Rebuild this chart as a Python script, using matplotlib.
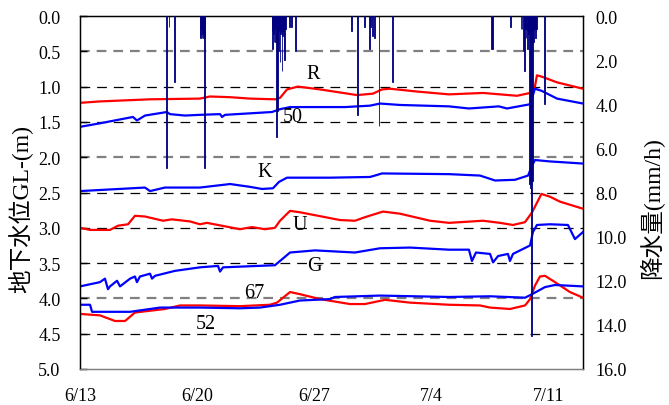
import matplotlib
matplotlib.use("Agg")
import matplotlib.pyplot as plt
import numpy as np

plt.rcParams['font.family'] = ['Liberation Serif', 'Noto Sans CJK JP']
plt.rcParams['lines.scale_dashes'] = False

# ---------------- data (x = days since 6/13, y = depth GL-(m)) ----------------
R_x = [0, 1.19, 4.18, 7.16, 7.76, 8.96, 10.15, 11.64, 11.94, 12.36, 13.01, 14.33, 16.54, 17.49,
       18.03, 18.51, 20.12, 22.03, 24.06, 26.09, 26.87, 27.16, 27.28, 27.58, 28.48, 30.03]
R_y = [1.23, 1.21, 1.18, 1.17, 1.14, 1.15, 1.17, 1.18, 1.16, 1.04, 1.00, 1.04, 1.12, 1.10,
       1.04, 1.03, 1.07, 1.11, 1.09, 1.13, 1.09, 1.00, 0.84, 0.86, 0.94, 1.03]

W50_x = [0, 1.19, 3.16, 3.40, 3.88, 5.19, 5.37, 6.27, 7.16, 8.36, 8.48, 8.66, 11.46, 11.94, 12.54,
         14.33, 15.82, 17.31, 17.91, 19.10, 22.03, 23.22, 25.01, 25.49, 26.87, 27.16, 27.56, 28.48, 30.03]
W50_y = [1.57, 1.52, 1.43, 1.48, 1.41, 1.36, 1.39, 1.41, 1.40, 1.39, 1.43, 1.40, 1.36, 1.32, 1.29,
         1.29, 1.29, 1.27, 1.24, 1.26, 1.28, 1.31, 1.28, 1.31, 1.25, 1.03, 1.06, 1.17, 1.24]

K_x = [0, 3.88, 4.18, 5.07, 7.16, 8.96, 10.15, 10.87, 11.52, 11.88, 12.36, 14.93, 17.31, 17.61,
       18.03, 22.03, 23.88, 24.78, 25.97, 26.75, 26.99, 27.16, 28.06, 30.03]
K_y = [2.48, 2.43, 2.48, 2.43, 2.43, 2.38, 2.42, 2.45, 2.44, 2.35, 2.29, 2.29, 2.28, 2.26,
       2.23, 2.24, 2.26, 2.33, 2.32, 2.26, 2.12, 2.04, 2.06, 2.09]

U_x = [0, 0.60, 1.79, 2.27, 2.87, 3.28, 3.88, 4.96, 5.49, 6.57, 7.16, 7.58, 9.55, 10.27, 11.04,
       11.64, 11.94, 12.54, 13.13, 15.52, 16.42, 17.01, 18.09, 19.10, 20.90, 22.03, 24.06, 25.07,
       25.85, 26.57, 26.99, 27.55, 28.06, 28.66, 30.03]
U_y = [3.00, 3.03, 3.03, 2.97, 2.95, 2.83, 2.84, 2.90, 2.88, 2.91, 2.95, 2.93, 3.02, 2.99, 3.02,
       3.00, 2.90, 2.76, 2.78, 2.89, 2.90, 2.85, 2.77, 2.80, 2.90, 2.93, 2.90, 2.93,
       2.96, 2.92, 2.78, 2.52, 2.56, 2.63, 2.73]

G_x = [0, 1.19, 1.49, 1.67, 1.79, 2.21, 2.39, 2.99, 3.28, 3.40, 3.58, 4.18, 4.30, 4.48, 5.67,
       7.16, 8.24, 8.36, 8.54, 11.64, 12.54, 14.03, 16.42, 17.91, 19.70, 22.03, 23.22, 23.40,
       23.64, 24.48, 24.66, 24.96, 25.55, 25.67, 25.85, 26.87, 27.04, 27.28, 28.06, 29.13, 29.55, 30.03]
G_y = [3.83, 3.77, 3.72, 3.87, 3.83, 3.75, 3.83, 3.72, 3.69, 3.77, 3.69, 3.65, 3.72, 3.68, 3.61,
       3.56, 3.54, 3.62, 3.56, 3.53, 3.35, 3.32, 3.35, 3.29, 3.28, 3.31, 3.31, 3.47,
       3.35, 3.37, 3.49, 3.40, 3.37, 3.47, 3.37, 3.25, 3.06, 2.96, 2.95, 2.96, 3.16, 3.06]

S67_x = [0, 1.19, 2.09, 2.69, 3.28, 5.07, 5.97, 7.16, 9.55, 11.34, 11.76, 12.54, 13.13, 14.33,
         16.12, 17.01, 18.21, 19.70, 22.03, 23.88, 24.48, 25.67, 26.57, 26.87, 27.16, 27.46,
         27.76, 28.36, 29.25, 30.03]
S67_y = [4.22, 4.24, 4.32, 4.32, 4.20, 4.15, 4.10, 4.10, 4.11, 4.09, 4.06, 3.91, 3.94, 4.01,
         4.08, 4.08, 4.02, 4.06, 4.09, 4.10, 4.13, 4.15, 4.10, 4.01, 3.82, 3.69,
         3.68, 3.77, 3.91, 3.99]

S52_x = [0, 0.60, 0.72, 2.99, 4.78, 7.16, 9.55, 10.75, 11.94, 13.13, 14.93, 15.22, 17.91,
         22.03, 24.48, 26.57, 26.99, 27.76, 28.36, 30.03]
S52_y = [4.09, 4.09, 4.19, 4.19, 4.13, 4.13, 4.14, 4.13, 4.09, 4.03, 4.01, 3.98, 3.96,
         3.98, 3.97, 3.99, 3.94, 3.84, 3.81, 3.83]

# hourly rainfall (mm/h)
rain_day = [5.18, 5.31, 5.63,
            7.17, 7.21, 7.25, 7.29, 7.33, 7.38, 7.42, 7.46,
            11.46, 11.50, 11.54, 11.58, 11.62, 11.66, 11.70, 11.74, 11.78, 11.82, 11.86, 11.90,
            11.94, 11.98, 12.02, 12.06, 12.10, 12.14, 12.18, 12.22, 12.26,
            12.50, 12.64, 12.88,
            16.22, 16.58, 16.97, 17.27, 17.36, 17.45, 17.57, 17.85, 18.65,
            24.57, 24.63, 25.70,
            26.33, 26.39, 26.46, 26.52, 26.58, 26.63, 26.68, 26.73, 26.78, 26.83, 26.88, 26.92,
            26.97, 27.03, 27.09, 27.15, 27.20, 27.24,
            27.73]
rain_mm = [6.9, 0.5, 3.0,
           0.9, 1.0, 0.6, 1.0, 0.8, 1.0, 6.9, 1.0,
           0.7, 1.5, 0.8, 1.2, 0.6, 1.2, 0.8, 5.5, 4.3, 0.8, 1.6, 0.7,
           2.1, 0.8, 0.7, 2.5, 0.9, 0.7, 1.6, 2.0, 0.6,
           0.5, 0.5, 1.6,
           0.7, 4.5, 0.5, 1.5, 0.5, 0.9, 1.0, 5.0, 3.0,
           1.5, 1.5, 0.5,
           0.6, 0.6, 1.6, 2.5, 0.6, 1.0, 0.7, 1.5, 0.8, 7.6, 7.8, 8.0,
           14.5, 7.5, 1.2, 0.6, 1.0, 0.6,
           4.0]

xtick_pos = [0, 7, 14, 21, 28]
xtick_labels = ['6/13', '6/20', '6/27', '7/4', '7/11']
left_ticks = [0.0, 0.5, 1.0, 1.5, 2.0, 2.5, 3.0, 3.5, 4.0, 4.5, 5.0]
right_ticks = [0, 2, 4, 6, 8, 10, 12, 14, 16]

series = [
    (R_x, R_y, 'red', 'R', 13.9, 0.82),
    (W50_x, W50_y, 'blue', '50', 12.7, 1.43),
    (K_x, K_y, 'blue', 'K', 11.0, 2.2),
    (U_x, U_y, 'red', 'U', 13.1, 2.96),
    (G_x, G_y, 'blue', 'G', 14.0, 3.54),
    (S67_x, S67_y, 'red', '67', 10.4, 3.91),
    (S52_x, S52_y, 'blue', '52', 7.5, 4.36),
]

# ---------------- figure ----------------
fig = plt.figure(figsize=(6.69, 4.06), dpi=100)
ax = fig.add_axes([80/669, 1-370/406, (583-80)/669, (370-17)/406])

for yv in left_ticks[1:-1]:
    if yv in (0.5, 2.0, 4.0):
        ax.axhline(yv, color='#808080', lw=1.6, ls=(0, (7, 5)), zorder=1)
    else:
        ax.axhline(yv, color='black', lw=0.9, ls=(0, (7, 5)), zorder=1)

for xs, ys, c, lab, tx, ty in series:
    ax.plot(xs, ys, color=c, lw=1.6, zorder=3)
    ax.text(tx, ty, lab, fontsize=14.5, ha='center', va='center', zorder=4)

ax.set_xlim(0, 30.03)
ax.set_ylim(5, 0)
ax.set_yticks(left_ticks)
ax.set_yticklabels([f'{v:.1f}' for v in left_ticks])
ax.set_xticks(xtick_pos)
ax.set_xticklabels(xtick_labels)
ax.tick_params(axis='y', direction='in', length=5, width=1, labelsize=13, pad=14)
ax.tick_params(axis='x', length=0, labelsize=13, pad=13)
ax.set_ylabel('地下水位GL-(m)', fontsize=17)
ax.yaxis.set_label_coords(-0.094, 0.455)

for s in ['left', 'top', 'right']:
    ax.spines[s].set_color('black')
    ax.spines[s].set_linewidth(1.0)
ax.spines['bottom'].set_color('#808080')
ax.spines['bottom'].set_linewidth(1.0)

ax2 = ax.twinx()
ax2.bar(rain_day, rain_mm, width=1/24, align='center', color='#000080',
        edgecolor='#000080', linewidth=0.6, zorder=5)
ax2.set_ylim(16, 0)
ax2.set_xlim(0, 30.03)
ax2.set_yticks(right_ticks)
ax2.set_yticklabels([f'{v:.1f}' for v in right_ticks])
ax2.tick_params(axis='y', direction='in', length=0, labelsize=13, pad=9)
ax2.set_ylabel('降水量(mm/h)', fontsize=17, rotation=90)
ax2.yaxis.set_label_coords(1.112, 0.46)
ax2.spines['bottom'].set_color('#808080')

fig.savefig('out.png', dpi=100)
